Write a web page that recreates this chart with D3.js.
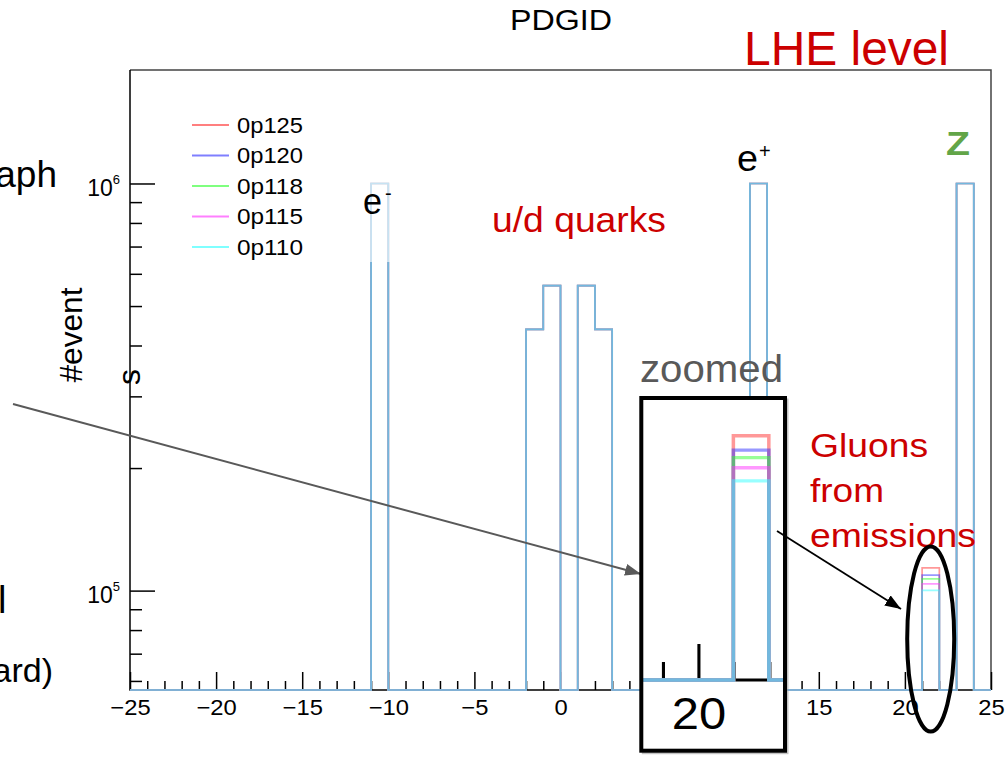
<!DOCTYPE html>
<html>
<head>
<meta charset="utf-8">
<script src="https://cdn.jsdelivr.net/npm/d3@7"></script>
<style>
  body { margin: 0; background: #fff; }
  svg { font-family: "Liberation Sans", Arial, Helvetica, sans-serif; }
</style>
</head>
<body>
<div id="chart"></div>
<script>
// lower edge of every filled PDGID bin (bin width 1)
const pdgBins = [-11, -2, -1, 1, 2, 11, 21, 23];

// events per bin, one array per sample
const samples = ["0p125", "0p120", "0p118", "0p115", "0p110"];
const nev0p125 = [1.0e6, 4.38e5, 5.61e5, 5.61e5, 4.38e5, 1.0e6, 1.137e5, 1.0e6];
const nev0p120 = [1.0e6, 4.38e5, 5.61e5, 5.61e5, 4.38e5, 1.0e6, 1.092e5, 1.0e6];
const nev0p118 = [1.0e6, 4.38e5, 5.61e5, 5.61e5, 4.38e5, 1.0e6, 1.069e5, 1.0e6];
const nev0p115 = [1.0e6, 4.38e5, 5.61e5, 5.61e5, 4.38e5, 1.0e6, 1.039e5, 1.0e6];
const nev0p110 = [1.0e6, 4.38e5, 5.61e5, 5.61e5, 4.38e5, 1.0e6, 1.001e5, 1.0e6];
const sampleValues = [nev0p125, nev0p120, nev0p118, nev0p115, nev0p110];
const sampleColors = ["#ff0000", "#0000ff", "#00ff00", "#ff00ff", "#00ffff"];

// axis ticks
const xMajorTicks = [-25, -20, -15, -10, -5, 0, 5, 10, 15, 20, 25];
const xMinorTicks = [-24,-23,-22,-21,-19,-18,-17,-16,-14,-13,-12,-11,-9,-8,-7,-6,-4,-3,-2,-1,
                     1,2,3,4,6,7,8,9,11,12,13,14,16,17,18,19,21,22,23,24];
const yMajorTicks = [1e5, 1e6];
const yMinorTicks = [6e4, 7e4, 8e4, 9e4, 2e5, 3e5, 4e5, 5e5, 6e5, 7e5, 8e5, 9e5];

const width = 1005, height = 757;
const svg = d3.select("#chart").append("svg")
  .attr("width", width).attr("height", height);

var x = d3.scaleLinear().domain([-25, 25]).range([130, 991]);
var y = d3.scaleLog().domain([5.7e4, 1.9e6]).range([690, 70]);

// empty bins sit on the bottom of the frame, like ROOT does
function yv(v) { return v > 0 ? y(v) : y.range()[0]; }

function histPath(vals) {
  let m = new Map();
  pdgBins.forEach((b, i) => m.set(b, vals[i]));
  let p = "M" + x(-25) + "," + yv(m.get(-25) || 0);
  for (let b = -25; b < 25; b++) {
    p += "H" + x(b + 1);
    if (b + 1 < 25) p += "V" + yv(m.get(b + 1) || 0);
  }
  return p;
}

const defs = svg.append("defs");
defs.append("clipPath").attr("id", "insetClip")
  .append("rect").attr("x", 643).attr("y", 400).attr("width", 140).attr("height", 349);
function arrowMarker(id, color) {
  defs.append("marker").attr("id", id)
    .attr("markerUnits", "userSpaceOnUse")
    .attr("markerWidth", 16).attr("markerHeight", 12)
    .attr("refX", 16).attr("refY", 6).attr("orient", "auto")
    .append("path").attr("d", "M0,0L16,6L0,12Z").attr("fill", color);
}
arrowMarker("arrGray", "#595959");
arrowMarker("arrBlack", "#000");

// stretch text a little wider, the slide is not 1:1
function widen(sel, f) {
  sel.each(function () {
    let len = this.getComputedTextLength();
    d3.select(this).attr("textLength", len * f).attr("lengthAdjust", "spacingAndGlyphs");
  });
}

// main = true draws the whole pad, false only what the zoom box shows
function drawPlot(g, main, labelTicks) {
  if (main) {
    g.append("text").attr("x", 510).attr("y", 30)
      .attr("font-size", 30).attr("textLength", 102).attr("lengthAdjust", "spacingAndGlyphs")
      .text("PDGID");
    g.append("path").attr("d", "M130,70H991V690").attr("fill", "none")
      .attr("stroke", "#444").attr("stroke-width", 1.5);
  }
  g.append("path").attr("d", "M130,70V690H991").attr("fill", "none")
    .attr("stroke", "#000").attr("stroke-width", 1.5);

  // x axis
  let xa = g.append("g").attr("transform", "translate(0,690)")
    .call(d3.axisBottom(x).tickValues(xMajorTicks).tickSizeInner(-18).tickSizeOuter(0).tickPadding(9)
      .tickFormat(d => labelTicks.includes(d) ? d3.format("")(d) : ""));
  let xm = g.append("g").attr("transform", "translate(0,690)")
    .call(d3.axisBottom(x).tickValues(xMinorTicks).tickSizeInner(-9).tickSizeOuter(0).tickFormat(""));
  [xa, xm].forEach(a => {
    a.attr("font-size", null).attr("font-family", null);
    a.select(".domain").remove();
    a.selectAll("line").attr("stroke", "#000").attr("stroke-width", 1.5);
  });
  xa.selectAll("text").filter(d => !labelTicks.includes(d)).remove();
  xa.selectAll("text").attr("font-size", 22).attr("fill", "#000");
  widen(xa.selectAll("text"), 1.08);

  if (main) {
    // y axis
    let ya = g.append("g").attr("transform", "translate(130,0)")
      .call(d3.axisLeft(y).tickValues(yMajorTicks).tickSizeInner(-25).tickSizeOuter(0)
        .tickPadding(10).tickFormat(() => "10"));
    let ym = g.append("g").attr("transform", "translate(130,0)")
      .call(d3.axisLeft(y).tickValues(yMinorTicks).tickSizeInner(-12).tickSizeOuter(0).tickFormat(""));
    [ya, ym].forEach(a => {
      a.attr("font-size", null).attr("font-family", null);
      a.select(".domain").remove();
      a.selectAll("line").attr("stroke", "#000").attr("stroke-width", 1.5);
    });
    ya.selectAll(".tick text")
      .attr("font-size", 23).attr("fill", "#000").attr("dy", "0.53em")
      .append("tspan").attr("dy", -12).attr("font-size", 13)
      .text(d => Math.round(Math.log10(d)));

    // legend
    let leg = g.append("g");
    samples.forEach((s, i) => {
      let base = 132.7 + i * 30.5;
      leg.append("line").attr("x1", 192).attr("x2", 229)
        .attr("y1", base - 7.7).attr("y2", base - 7.7)
        .attr("stroke", sampleColors[i]).attr("stroke-opacity", 0.5).attr("stroke-width", 2);
      leg.append("text").attr("x", 237).attr("y", base)
        .attr("font-size", 21.5).attr("textLength", 66).attr("lengthAdjust", "spacingAndGlyphs")
        .text(s);
    });
  }

  // histograms on top: an opaque white underlay, then the samples half
  // transparent so that the overlaps blend
  sampleValues.forEach(vals => {
    g.append("path").attr("d", histPath(vals))
      .attr("fill", "none").attr("stroke", "#fff").attr("stroke-width", 1.7);
  });
  let hg = g.append("g").attr("opacity", 0.8);
  sampleValues.forEach((vals, i) => {
    hg.append("path").attr("d", histPath(vals))
      .attr("fill", "none")
      .attr("stroke", sampleColors[i])
      .attr("stroke-opacity", 0.5)
      .attr("stroke-width", 1.7);
  });
}

// main plot (labels under the zoom box are hidden there anyway)
drawPlot(svg.append("g"), true, [-25, -20, -15, -10, -5, 0, 15, 20, 25]);

// slide annotations ------------------------------------------------
function note(t, px, py, size, len, color, weight) {
  let el = svg.append("text").attr("x", px).attr("y", py)
    .attr("font-size", size).attr("fill", color || "#000").text(t);
  if (len) el.attr("textLength", len).attr("lengthAdjust", "spacingAndGlyphs");
  if (weight) el.attr("font-weight", weight);
  return el;
}

// pale box behind the e- label
svg.append("rect").attr("x", 360).attr("y", 178).attr("width", 36).attr("height", 84)
  .attr("fill", "#fff").attr("opacity", 0.6);

note("LHE level", 744, 65, 48, 205, "#cc0000");
note("e", 363, 214, 36, 19);
note("-", 385, 200, 20);
note("e", 737, 171, 36, 21);
note("+", 759, 158, 20);
note("Z", 946, 155, 34, 24, "#62a548", "bold");
note("u/d quarks", 492, 232, 35, 174, "#cc0000");
note("zoomed", 640, 382, 39, 143, "#595959");
note("Gluons", 810, 457, 33, 118, "#cc0000");
note("from", 810, 502, 33, 74, "#cc0000");
note("emissions", 810, 547, 33, 166, "#cc0000");

// text cut off at the slide's left edge
note("aph", 57, 187, 37).attr("text-anchor", "end");
note("l", -2, 613, 38);
note("ard)", 53, 682, 34).attr("text-anchor", "end");
svg.append("text").attr("transform", "translate(82,335) rotate(-90)")
  .attr("text-anchor", "middle").attr("font-size", 32)
  .attr("textLength", 95).attr("lengthAdjust", "spacingAndGlyphs").text("#event");
svg.append("text").attr("transform", "translate(139.5,377) rotate(-90)")
  .attr("text-anchor", "middle").attr("font-size", 32).text("s");

// gray arrow into the zoom box
svg.append("line").attr("x1", 13).attr("y1", 404).attr("x2", 641).attr("y2", 574)
  .attr("stroke", "#595959").attr("stroke-width", 2).attr("marker-end", "url(#arrGray)");

// zoom box: same plot, magnified around the gluon bin
svg.append("rect").attr("x", 643.3).attr("y", 400).attr("width", 143.7).attr("height", 352.7)
  .attr("fill", "none").attr("stroke", "#999").attr("stroke-width", 3).attr("opacity", 0.6);
svg.append("rect").attr("x", 641.3).attr("y", 398).attr("width", 143.7).attr("height", 352.7)
  .attr("fill", "#fff");
drawPlot(svg.append("g").attr("clip-path", "url(#insetClip)")
  .append("g").attr("transform", "translate(-1166.2,-700) scale(2.06,2)"), false, [20]);
svg.append("rect").attr("x", 641.3).attr("y", 398).attr("width", 143.7).attr("height", 352.7)
  .attr("fill", "none").attr("stroke", "#000").attr("stroke-width", 4);

// black arrow to the circled bin
svg.append("line").attr("x1", 777).attr("y1", 531).attr("x2", 901).attr("y2", 609)
  .attr("stroke", "#000").attr("stroke-width", 1.8).attr("marker-end", "url(#arrBlack)");
svg.append("ellipse").attr("cx", 930.7).attr("cy", 639).attr("rx", 23.5).attr("ry", 92.5)
  .attr("fill", "none").attr("stroke", "#000").attr("stroke-width", 4);
</script>
</body>
</html>
